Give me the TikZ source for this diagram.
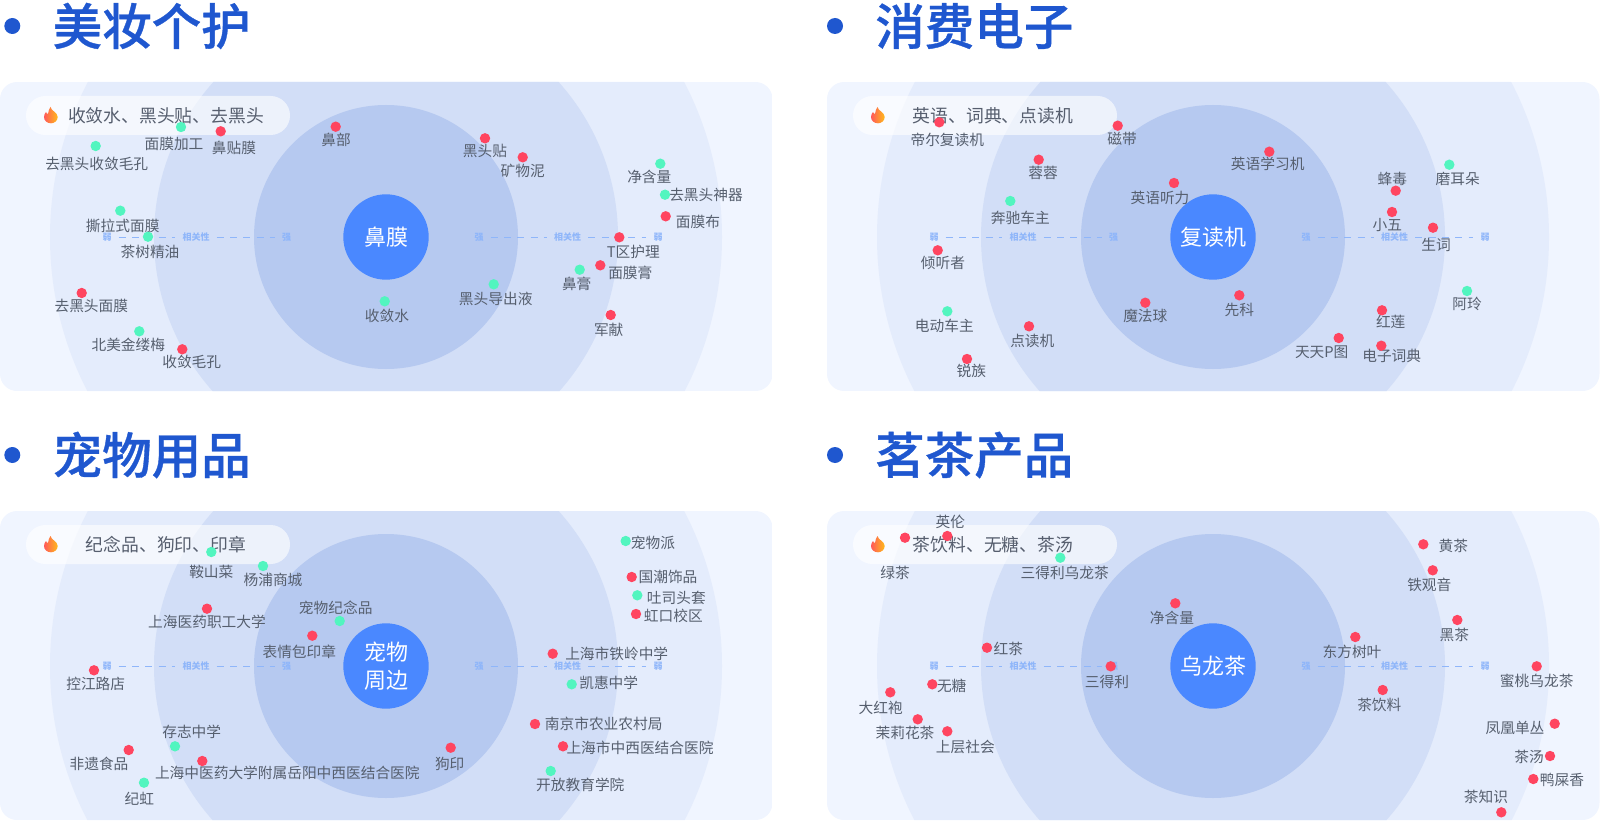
\documentclass[tikz,border=0pt]{standalone}
\usepackage{fontspec}
\setmainfont{Noto Sans CJK SC}
\newfontfamily\headfont[FakeBold=0.7]{Noto Sans CJK SC Medium}
\definecolor{panelbg}{HTML}{F0F5FF}
\definecolor{ringfar}{HTML}{E4ECFC}
\definecolor{ringmid}{HTML}{D2DEF7}
\definecolor{ringnear}{HTML}{B6C9F0}
\definecolor{corecol}{HTML}{4A88FF}
\definecolor{titlecol}{HTML}{1F57CF}
\definecolor{textcol}{HTML}{565F6E}
\definecolor{pilltext}{HTML}{565E6E}
\definecolor{axiscol}{HTML}{8FB6FA}
\definecolor{reddot}{HTML}{FF4560}
\definecolor{greendot}{HTML}{52F5BF}
\tikzset{
	core/.style={circle, fill=corecol, text=white, minimum size=85.4pt, inner sep=0pt, align=center, font=\fontsize{22}{28}\selectfont},
	headline/.style={text=titlecol, inner sep=0pt, font=\fontsize{49.5}{56}\headfont},
	bullet/.style={circle, fill=titlecol, minimum size=16pt, inner sep=0pt},
	pill/.style={text=pilltext, inner sep=0pt, font=\fontsize{17.8}{21}\selectfont},
	axislabel/.style={text=axiscol, inner sep=7pt, font=\fontsize{9}{11}\selectfont\bfseries},
	axisline/.style={axiscol, line width=1pt, dash pattern=on 7pt off 6.3pt},
	term/.style={text=textcol, inner sep=0pt, font=\fontsize{14.7}{17}\selectfont},
	termdot/.style={circle, fill=#1, minimum size=10.4pt, inner sep=0pt}
}
\begin{document}
\begin{tikzpicture}[x=1pt,y=-1pt]
	\useasboundingbox (0,0) rectangle (1600,821);

	% Ueberschriften
	\foreach \hx/\hy/\bx/\htxt [count=\i] in {151.7/26/12.3/美妆个护, 974.3/26/835/消费电子, 151.7/455/12.3/宠物用品, 974.3/455/835/茗茶产品} {
		\node[bullet] (bul\i) at (\bx,\hy) {};
		\node[headline] (head\i) at (\hx,\hy) {\htxt};
	}

	% Felder mit Ringen, Kern, Achse
	\foreach \px/\py/\kern/\hot [count=\i] in {0/82/鼻膜/收敛水、黑头贴、去黑头, 827/82/复读机/英语、词典、点读机, 0/511/{宠物\\周边}/纪念品、狗印、印章, 827/511/乌龙茶/茶饮料、无糖、茶汤} {
		\begin{scope}[shift={(\px,\py)}]
			\begin{scope}
				\clip[rounded corners=17pt] (0,0) rectangle (772.5,309);
				\fill[panelbg] (0,0) rectangle (772.5,309);
				\fill[ringfar] (386,155) circle [radius=336pt];
				\fill[ringmid] (386,155) circle [radius=232pt];
				\fill[ringnear] (386,155) circle [radius=132pt];
			\end{scope}
			\node[core] (core\i) at (386,155) {\kern};
			% Suchbegriffe
			\fill[white, opacity=0.62, rounded corners=19.5pt] (26,14) rectangle (290,53);
			\node[pill] (hot\i) at (166,34) {\hot};
			% Flamme
			\shade[left color=red!65!white, right color=orange!60!yellow!90!white]
				(50.5,25) .. controls (51,29) and (57.5,30) .. (57.7,35)
				.. controls (57.7,39) and (54,41.3) .. (51,41.3)
				.. controls (47,41.3) and (44,38.5) .. (44,35)
				.. controls (44,33) and (45,31) .. (46,30)
				.. controls (46.5,31) and (47,32) .. (48,32)
				.. controls (48.5,29) and (49,27) .. (50.5,25) -- cycle;
			% Achse links
			\node[axislabel] (lweak\i) at (107,155.3) {弱};
			\node[axislabel] (lmid\i) at (196,155.3) {相关性};
			\node[axislabel] (lstrong\i) at (286.7,155.3) {强};
			\draw[axisline] (lweak\i) -- (lmid\i);
			\draw[axisline] (lmid\i) -- (lstrong\i);
			% Achse rechts
			\node[axislabel] (rstrong\i) at (479,155.3) {强};
			\node[axislabel] (rmid\i) at (567.7,155.3) {相关性};
			\node[axislabel] (rweak\i) at (658,155.3) {弱};
			\draw[axisline] (rstrong\i) -- (rmid\i);
			\draw[axisline] (rmid\i) -- (rweak\i);
		\end{scope}
	}

	% Begriffe
	\foreach \dotc/\dx/\dy/\lx/\ly/\txt [count=\i] in {
		greendot/181/127/174/144.3/面膜加工, reddot/220.7/131.3/234/148/鼻贴膜,
		greendot/95.7/146/96.7/163.7/去黑头收敛毛孔, reddot/335.7/126.7/336/140.3/鼻部,
		greendot/120.3/210.7/122.7/225.7/撕拉式面膜, greendot/148/236.7/150/252/茶树精油,
		reddot/81.7/293/91.3/305.7/去黑头面膜, greendot/139.3/331.3/128.3/345/北美金缕梅,
		reddot/182.3/349.3/191.7/362.3/收敛毛孔, greendot/384.7/301.3/387/315.7/收敛水,
		reddot/485/138.3/485/151.3/黑头贴, reddot/522.7/157.3/522.7/170.7/矿物泥,
		greendot/660.3/163.7/649.3/177.3/净含量, greendot/665/194.7/706/195.3/去黑头神器,
		reddot/665.7/216.3/698/222.3/面膜布, reddot/619.3/237.3/633.3/252/T区护理,
		reddot/600.3/265.3/630.3/273.3/面膜膏, greendot/579.7/269.7/576.7/283.7/鼻膏,
		greendot/493.7/284.3/495.7/299.3/黑头导出液, reddot/610.7/315/608.7/330/军献,
		reddot/939.3/122.3/947.3/140.3/帝尔复读机, reddot/1117.7/125.7/1122/139.3/磁带,
		reddot/1038.7/159.7/1043/173/蓉蓉, reddot/1174/183/1160/198/英语听力,
		greendot/1010.3/201/1020.3/217.7/奔驰车主, reddot/937.7/250.3/943/263/倾听者,
		greendot/947.3/311.3/944.3/326.3/电动车主, reddot/1029/326.3/1032.3/341.3/点读机,
		reddot/1145.3/302.7/1145.3/316.3/魔法球, reddot/967/359/971.3/371/锐族,
		reddot/1269.3/151.7/1267.7/163.7/英语学习机, reddot/1395.7/190.7/1392.3/179/蜂毒,
		greendot/1449.3/164.7/1457.7/179.3/磨耳朵, reddot/1392/212/1387.3/225/小五,
		reddot/1433/227.7/1436/245.3/生词, greendot/1467/291/1467/304/阿玲,
		reddot/1239.3/295.3/1239.3/310.3/先科, reddot/1382/310.3/1390.7/321.7/红莲,
		reddot/1338.7/338/1321.7/352.3/天天P图, reddot/1381.3/345.7/1391.7/356/电子词典,
		greendot/211.3/552/211.3/571.7/鞍山菜, greendot/263/566/273/580.3/杨浦商城,
		reddot/207/608.7/207/622/上海医药职工大学, greendot/339.7/621/335.7/607.3/宠物纪念品,
		reddot/312.3/635.7/299.3/651.7/表情包印章, reddot/94/670.3/95.7/684.3/控江路店,
		greendot/175/746.3/191.7/731.7/存志中学, reddot/128.7/750/99/763.7/非遗食品,
		reddot/202.3/761/287.3/773/上海中医药大学附属岳阳中西医结合医院, greendot/144/782.7/139.3/798.7/纪虹,
		greendot/625.7/541/653/543.3/宠物派, reddot/631.7/577/668/577.3/国潮饰品,
		greendot/637.3/595.3/676.3/598/吐司头套, reddot/636/614/673.3/616/虹口校区,
		reddot/552.7/653.7/616.7/654.3/上海市铁岭中学, greendot/571.7/684.3/608.7/683.3/凯惠中学,
		reddot/535/724/603.7/724.3/南京市农业农村局, reddot/563/746.3/640/748.3/上海市中西医结合医院,
		greendot/550.7/771/580.3/784.7/开放教育学院, reddot/450.7/747.7/449.7/764/狗印,
		reddot/947.3/536/950.3/522/英伦, reddot/905/537.7/895/573.3/绿茶,
		greendot/1060.3/557.7/1064.7/572.7/三得利乌龙茶, reddot/1175.3/603.3/1172/618.3/净含量,
		reddot/987/647.7/1008.3/649/红茶, reddot/1110.7/666.3/1107/681.7/三得利,
		reddot/932.3/684.3/951.7/686.3/无糖, reddot/890.3/692.3/880.7/708/大红袍,
		reddot/917.7/719.3/905/732.7/茉莉花茶, reddot/947.3/731.3/965.3/746.7/上层社会,
		reddot/1423.3/544.3/1453.3/545.7/黄茶, reddot/1432.7/570.3/1429.3/584.7/铁观音,
		reddot/1457.3/620/1454.3/634.7/黑茶, reddot/1355.3/637/1352/652/东方树叶,
		reddot/1536.7/666.3/1536.7/681.3/蜜桃乌龙茶, reddot/1382.7/690/1379.3/705/茶饮料,
		reddot/1554.7/723.7/1515/728.3/凤凰单丛, reddot/1550/756/1529/757/茶汤,
		reddot/1533.3/779/1562/780.3/鸭屎香, reddot/1501.3/812.3/1486/796.7/茶知识} {
		\node[term] (term\i) at (\lx,\ly) {\txt};
		\node[termdot=\dotc] (dot\i) at (\dx,\dy) {};
	}
\end{tikzpicture}
\end{document}
